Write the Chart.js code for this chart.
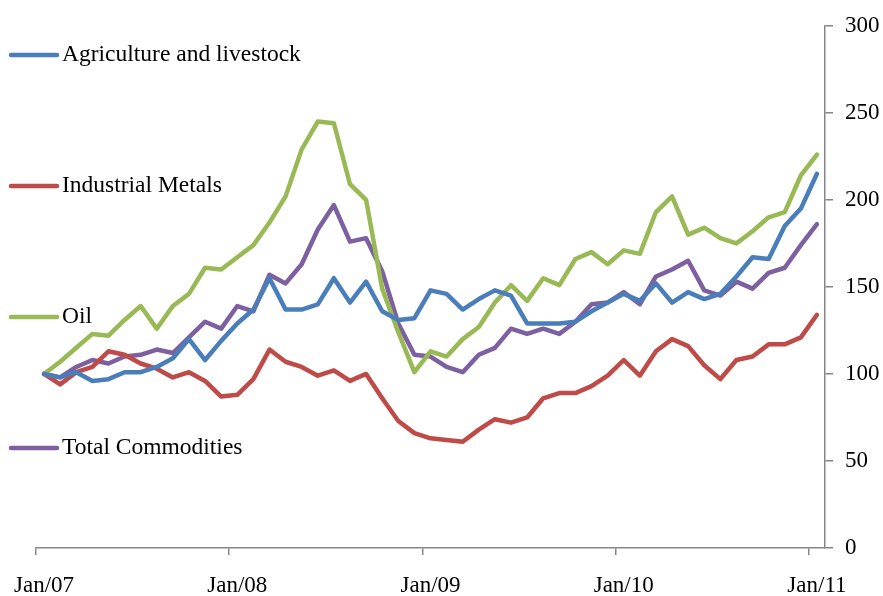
<!DOCTYPE html>
<html>
<head>
<meta charset="utf-8">
<script src="https://cdn.jsdelivr.net/npm/chart.js@4.4.1/dist/chart.umd.min.js"></script>
<style>
    html, body { margin: 0; padding: 0; background: #fff; }
    #wrap { width: 883px; height: 596px; position: relative; }
</style>
</head>
<body>
<div id="wrap"><canvas id="chart"></canvas></div>
<script>
const months = [
    'Jan/07', 'Feb/07', 'Mar/07', 'Apr/07', 'May/07', 'Jun/07', 'Jul/07', 'Aug/07', 'Sep/07', 'Oct/07', 'Nov/07', 'Dec/07',
    'Jan/08', 'Feb/08', 'Mar/08', 'Apr/08', 'May/08', 'Jun/08', 'Jul/08', 'Aug/08', 'Sep/08', 'Oct/08', 'Nov/08', 'Dec/08',
    'Jan/09', 'Feb/09', 'Mar/09', 'Apr/09', 'May/09', 'Jun/09', 'Jul/09', 'Aug/09', 'Sep/09', 'Oct/09', 'Nov/09', 'Dec/09',
    'Jan/10', 'Feb/10', 'Mar/10', 'Apr/10', 'May/10', 'Jun/10', 'Jul/10', 'Aug/10', 'Sep/10', 'Oct/10', 'Nov/10', 'Dec/10',
    'Jan/11'
];

const agriculture = [100, 98, 101, 96, 97, 101, 101, 104, 109, 120, 108, 119, 129, 137, 155, 137, 137, 140, 155, 141, 153, 136, 131, 132,
    148, 146, 137, 143, 148, 145, 129, 129, 129, 130, 136, 141, 146, 142, 152, 141, 147, 143, 146, 156, 167, 166, 185, 195, 215];
const metals = [100, 94, 101, 104, 113, 111, 106, 103, 98, 101, 96, 87, 88, 97, 114, 107, 104, 99, 102, 96, 100, 86, 73, 66,
    63, 62, 61, 68, 74, 72, 75, 86, 89, 89, 93, 99, 108, 99, 113, 120, 116, 105, 97, 108, 110, 117, 117, 121, 134];
const oil = [100, 107, 115, 123, 122, 131, 139, 126, 139, 146, 161, 160, 167, 174, 187, 202, 229, 245, 244, 209, 200, 149, 124, 101,
    113, 110, 120, 127, 141, 151, 142, 155, 151, 166, 170, 163, 171, 169, 193, 202, 180, 184, 178, 175, 182, 190, 193, 214, 226];
const total = [100, 98, 104, 108, 106, 110, 111, 114, 112, 121, 130, 126, 139, 136, 157, 152, 163, 183, 197, 176, 178, 159, 129, 111,
    110, 104, 101, 111, 115, 126, 123, 126, 123, 130, 140, 141, 147, 140, 156, 160, 165, 148, 145, 153, 149, 158, 161, 174, 186];

const seriesNames = ['Agriculture and livestock', 'Industrial Metals', 'Oil', 'Total Commodities'];
const seriesColors = ['#4a7ebb', '#be4b48', '#98b954', '#7d60a0'];

const axisColor = '#868686';
const fontFamily = '"Liberation Serif", "Times New Roman", serif';

// legend sits inside the plot, stacked down the left side
const sideLegend = {
    id: 'sideLegend',
    afterDraw(chart) {
        const ctx = chart.ctx;
        const rows = [55, 186, 317, 448];
        ctx.save();
        chart.data.datasets.forEach((ds, i) => {
            const y = rows[i];
            ctx.strokeStyle = ds.borderColor;
            ctx.lineWidth = 4.5;
            ctx.lineCap = 'round';
            ctx.beginPath();
            ctx.moveTo(11, y);
            ctx.lineTo(57, y);
            ctx.stroke();
            ctx.fillStyle = '#000';
            ctx.font = '23.5px ' + fontFamily;
            ctx.textBaseline = 'middle';
            ctx.textAlign = 'left';
            ctx.fillText(ds.label, 62, y);
        });
        ctx.restore();
    }
};

const seriesData = [agriculture, metals, oil, total];

new Chart(document.getElementById('chart'), {
    type: 'line',
    data: {
        labels: months,
        datasets: seriesData.map((d, i) => ({
            label: seriesNames[i],
            data: d,
            borderColor: seriesColors[i],
            backgroundColor: seriesColors[i],
            borderWidth: 4.5,
            borderCapStyle: 'round',
            borderJoinStyle: 'round',
            pointRadius: 0,
            tension: 0
        }))
    },
    options: {
        responsive: true,
        maintainAspectRatio: false,
        animation: false,
        layout: { padding: { left: 36, top: 22, right: 0, bottom: 0 } },
        plugins: {
            legend: { display: false },
            tooltip: { enabled: false }
        },
        scales: {
            x: {
                type: 'category',
                offset: true,
                afterFit(scale) {
                    scale.height = 48;
                    scale.paddingLeft = 0;
                    scale.paddingRight = 0;
                },
                border: { display: true, color: axisColor, width: 1.5 },
                grid: {
                    offset: true,
                    drawOnChartArea: false,
                    drawTicks: true,
                    tickLength: 7,
                    lineWidth: 1.5,
                    color: (c) => (c.index % 12 === 0 ? axisColor : 'rgba(0,0,0,0)')
                },
                ticks: {
                    autoSkip: false,
                    maxRotation: 0,
                    padding: 17,
                    color: '#000',
                    font: { family: fontFamily, size: 23 },
                    callback: function (val, idx) { return idx % 12 === 0 ? months[idx] : ''; }
                }
            },
            y: {
                position: 'right',
                min: 0,
                max: 300,
                afterFit(scale) { scale.width = 58; },
                border: { display: true, color: axisColor, width: 1.5 },
                grid: {
                    drawOnChartArea: false,
                    drawTicks: true,
                    tickLength: 8,
                    lineWidth: 1.5,
                    color: axisColor
                },
                ticks: {
                    stepSize: 50,
                    padding: 12,
                    color: '#000',
                    font: { family: fontFamily, size: 23 }
                }
            }
        }
    },
    plugins: [sideLegend]
});
</script>
</body>
</html>
